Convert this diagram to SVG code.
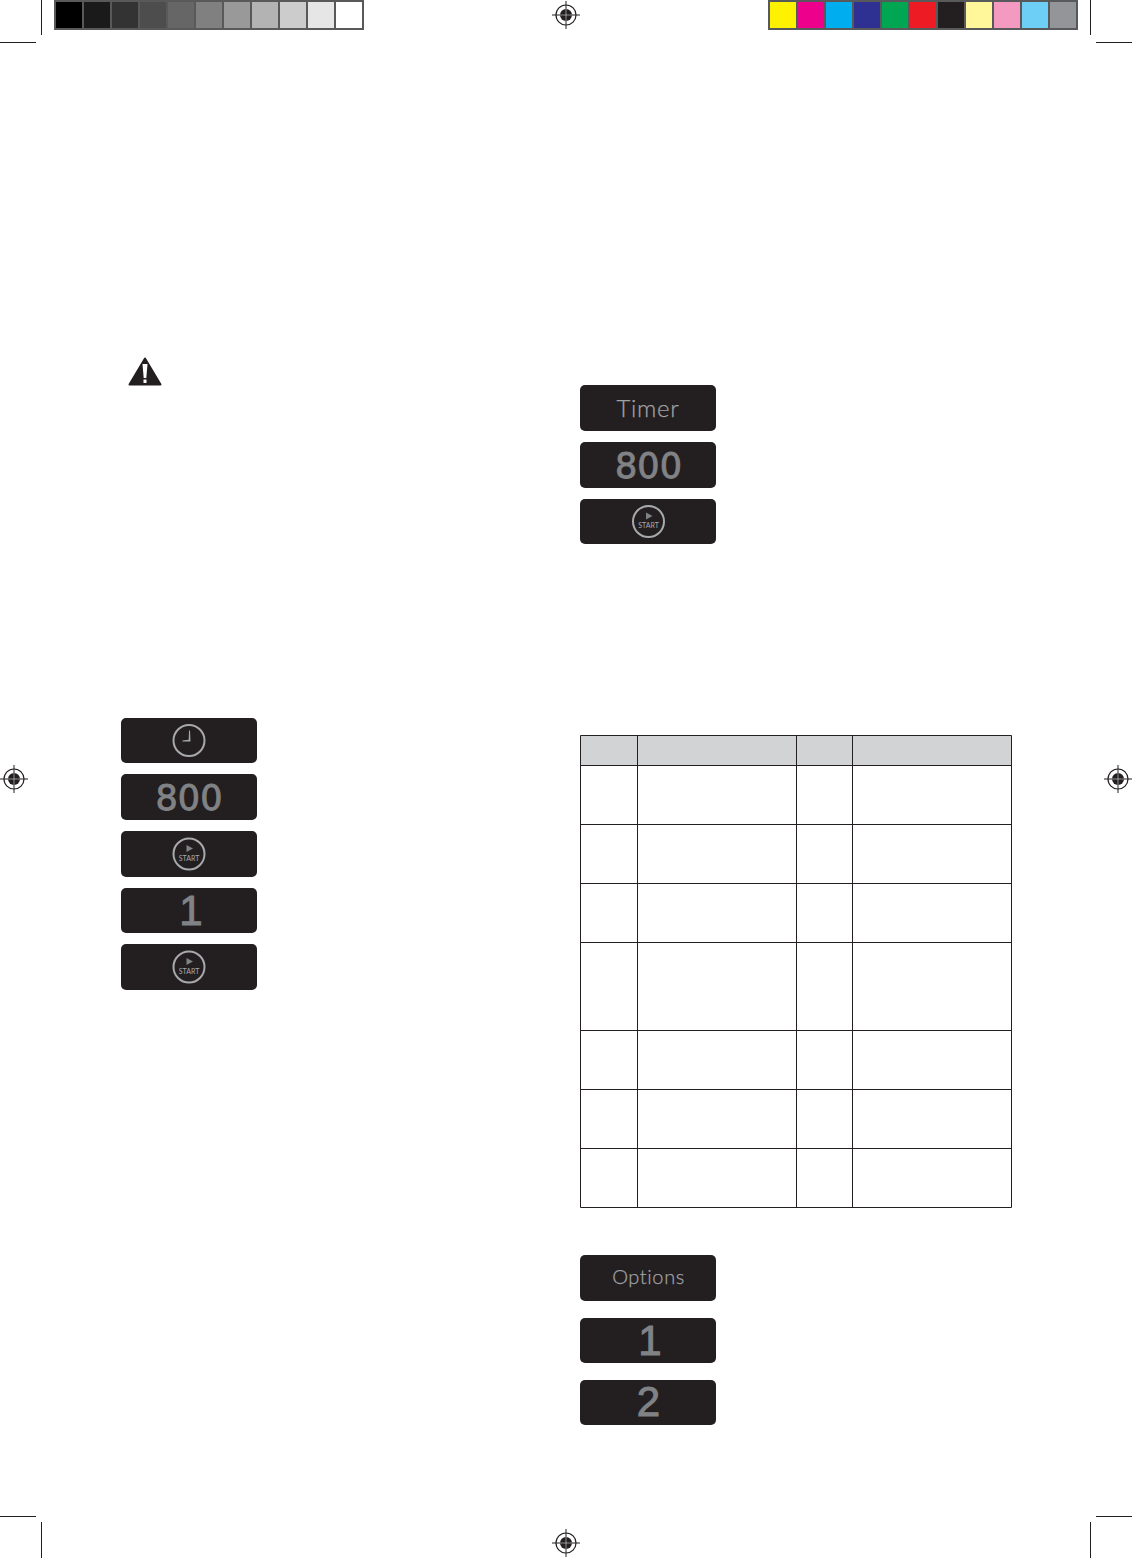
<svg xmlns="http://www.w3.org/2000/svg" xmlns:xlink="http://www.w3.org/1999/xlink" width="1132" height="1558" viewBox="0 0 1132 1558">
<style>
.crop{stroke:#231f20;stroke-width:1;fill:none}
.btn{fill:#231f20}
.t{fill:#808285;font-family:Lato,"Liberation Sans",sans-serif;text-anchor:middle;font-variant-ligatures:none}
.word{font-size:24px;font-weight:300;letter-spacing:.7px;fill:#a0a2a5;stroke:#a0a2a5;stroke-width:.25px}
.opt{font-size:20px;font-weight:300;letter-spacing:.6px;fill:#a0a2a5;stroke:#a0a2a5;stroke-width:.25px}
.num{font-family:"DejaVu Sans",sans-serif;font-size:35px;stroke:#808285;stroke-width:.9px}
.dig{font-family:"Liberation Sans",sans-serif;font-size:42px;stroke:#808285;stroke-width:1px}
.st{font-size:7px;fill:#a7a9ac}
.ring{fill:none;stroke:#a7a9ac;stroke-width:2}
.tl{stroke:#231f20;stroke-width:1;fill:none}
</style>
<defs>
<g id="reg"><circle r="10" fill="none" stroke="#231f20" stroke-width="1.200"/><circle r="6" fill="#231f20"/><path d="M-14 0H14M0-14V14" stroke="#231f20" stroke-width="1" fill="none"/><path d="M-6 0H6M0-6V6" stroke="#fff" stroke-width=".5" fill="none"/></g>
<g id="start"><circle r="15.500" class="ring"/><path d="M-2.500-9L4-5.500L-2.500-2Z" fill="#808285"/><text y="6.500" class="t st">START</text></g>
</defs>
<rect width="1132" height="1558" fill="#fff"/>
<g id="grayscale-bar">
<rect x="54" y="0" width="310" height="30" fill="#58595b"/>
<rect x="56" y="2" width="26" height="26" fill="#000"/>
<rect x="84" y="2" width="26" height="26" fill="#1a1a1a"/>
<rect x="112" y="2" width="26" height="26" fill="#333"/>
<rect x="140" y="2" width="26" height="26" fill="#4d4d4d"/>
<rect x="168" y="2" width="26" height="26" fill="#666"/>
<rect x="196" y="2" width="26" height="26" fill="#808080"/>
<rect x="224" y="2" width="26" height="26" fill="#999"/>
<rect x="252" y="2" width="26" height="26" fill="#b3b3b3"/>
<rect x="280" y="2" width="26" height="26" fill="#ccc"/>
<rect x="308" y="2" width="26" height="26" fill="#e6e6e6"/>
<rect x="336" y="2" width="26" height="26" fill="#fff"/>
</g>
<g id="color-bar">
<rect x="768" y="0" width="310" height="30" fill="#58595b"/>
<rect x="770" y="2" width="26" height="26" fill="#fff200"/>
<rect x="798" y="2" width="26" height="26" fill="#ec008c"/>
<rect x="826" y="2" width="26" height="26" fill="#00aeef"/>
<rect x="854" y="2" width="26" height="26" fill="#2e3192"/>
<rect x="882" y="2" width="26" height="26" fill="#00a651"/>
<rect x="910" y="2" width="26" height="26" fill="#ed1c24"/>
<rect x="938" y="2" width="26" height="26" fill="#231f20"/>
<rect x="966" y="2" width="26" height="26" fill="#fff799"/>
<rect x="994" y="2" width="26" height="26" fill="#f49ac1"/>
<rect x="1022" y="2" width="26" height="26" fill="#6dcff6"/>
<rect x="1050" y="2" width="26" height="26" fill="#939598"/>
</g>
<g id="crop-marks">
<path class="crop" d="M41.500 0V35M0 42.500H36M1090.500 0V35M1096 42.500H1132M0 1516.500H36M41.500 1522V1558M1096 1516.500H1132M1090.500 1522V1558"/>
</g>
<g id="registration-marks">
<use xlink:href="#reg" href="#reg" x="566" y="15"/>
<use xlink:href="#reg" href="#reg" x="14" y="779"/>
<use xlink:href="#reg" href="#reg" x="1118" y="779"/>
<use xlink:href="#reg" href="#reg" x="566" y="1543"/>
</g>
<g id="warning-icon">
<path d="M145 358.500L160.500 384.500H129.500Z" fill="#231f20" stroke="#231f20" stroke-width="2" stroke-linejoin="round"/>
<path d="M142.500 364H147.500L146.300 378H143.700Z" fill="#fff"/>
<rect x="143.500" y="379.500" width="3" height="3.500" fill="#fff"/>
</g>
<g id="btn-timer"><rect class="btn" x="580" y="385" width="136" height="46" rx="5"/><text class="t word" x="648" y="416.500">Timer</text></g>
<g id="btn-800-right"><rect class="btn" x="580" y="442" width="136" height="46" rx="5"/><text class="t num" x="648.500" y="477.500">800</text></g>
<g id="btn-start-right"><rect class="btn" x="580" y="499" width="136" height="45" rx="5"/><use xlink:href="#start" href="#start" x="648.500" y="521.500"/></g>
<g id="btn-clock"><rect class="btn" x="121" y="718" width="136" height="45" rx="5"/><circle cx="189" cy="740.500" r="15.500" class="ring"/><path d="M189 730.500H190L190.500 741.500H182.500V740.500L188.700 739.800Z" fill="#a7a9ac"/></g>
<g id="btn-800-left"><rect class="btn" x="121" y="774" width="136" height="46" rx="5"/><text class="t num" x="189" y="809.500">800</text></g>
<g id="btn-start-left-1"><rect class="btn" x="121" y="831" width="136" height="46" rx="5"/><use xlink:href="#start" href="#start" x="189" y="854"/></g>
<g id="btn-1-left"><rect class="btn" x="121" y="888" width="136" height="45" rx="5"/><text class="t dig" x="191" y="925">1</text></g>
<g id="btn-start-left-2"><rect class="btn" x="121" y="944" width="136" height="46" rx="5"/><use xlink:href="#start" href="#start" x="189" y="967"/></g>
<g id="btn-options"><rect class="btn" x="580" y="1255" width="136" height="46" rx="5"/><text class="t opt" x="648.500" y="1283.500">Options</text></g>
<g id="btn-1-right"><rect class="btn" x="580" y="1318" width="136" height="45" rx="5"/><text class="t dig" x="650" y="1355">1</text></g>
<g id="btn-2-right"><rect class="btn" x="580" y="1380" width="136" height="45" rx="5"/><text class="t dig" x="648.500" y="1416">2</text></g>
<g id="table">
<rect x="580.500" y="735.500" width="431" height="30" fill="#d1d3d4"/>
<path class="tl" d="M580.500 735.500H1011.500V1207.500H580.500ZM637.500 735.500V1207.500M796.500 735.500V1207.500M852.500 735.500V1207.500M580.500 765.500H1011.500M580.500 824.500H1011.500M580.500 883.500H1011.500M580.500 942.500H1011.500M580.500 1030.500H1011.500M580.500 1089.500H1011.500M580.500 1148.500H1011.500"/>
</g>
</svg>
